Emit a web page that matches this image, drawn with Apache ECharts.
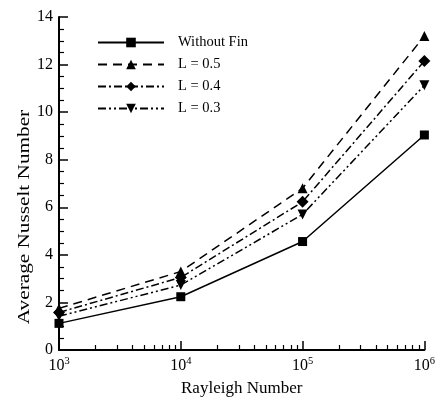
<!DOCTYPE html>
<html>
<head>
<meta charset="utf-8">
<script src="https://cdn.jsdelivr.net/npm/echarts@6/dist/echarts.min.js"></script>
<style>html,body{margin:0;padding:0;background:#fff}#c{width:438px;height:402px}</style>
</head>
<body>
<div id="c"></div>
<script>
const rayleigh = [1e3, 1e4, 1e5, 1e6];
const seriesNames = ['Without Fin', 'L = 0.5', 'L = 0.4', 'L = 0.3'];
const withoutFin = [1.12, 2.24, 4.56, 9.04];
const L05 = [1.75, 3.3, 6.8, 13.2];
const L04 = [1.58, 3.05, 6.23, 12.15];
const L03 = [1.42, 2.73, 5.7, 11.13];
const yTicks = [0, 2, 4, 6, 8, 10, 12, 14];
const minorRa = [2e3,3e3,4e3,5e3,6e3,7e3,8e3,9e3,2e4,3e4,4e4,5e4,6e4,7e4,8e4,9e4,2e5,3e5,4e5,5e5,6e5,7e5,8e5,9e5];
const xTitle = 'Rayleigh Number';
const yTitle = 'Average Nusselt Number';

const FONT = 'Liberation Serif';
const chart = echarts.init(document.getElementById('c'));
const mk = (name, vals, symbol, size, type, rot) => ({
  name, type: 'line', data: rayleigh.map((r, i) => [r, vals[i]]),
  symbol, symbolSize: size, symbolRotate: rot || 0, showSymbol: true,
  lineStyle: { color: '#000', width: 1.5, type },
  itemStyle: { color: '#000' }, z: 3, animation: false
});
chart.setOption({
  animation: false,
  grid: { left: 59, right: 12, top: 17, bottom: 43 },
  legend: {
    orient: 'vertical', left: 97, top: 35, padding: 0, itemWidth: 66, itemHeight: 12, itemGap: 7,
    data: seriesNames,
    textStyle: { fontFamily: FONT, fontSize: 14.5, color: '#000', padding: [0, 0, 0, 9] }
  },
  graphic: [{
    type: 'text', x: 25, y: 217, rotation: Math.PI / 2, scaleX: 1.25,
    style: { text: yTitle, font: '17px "Liberation Serif"', fill: '#000', align: 'center', verticalAlign: 'middle' }
  }],
  xAxis: [{
    type: 'log', logBase: 10, min: 1e3, max: 1e6,
    name: xTitle, nameLocation: 'middle', nameGap: 30,
    nameTextStyle: { fontFamily: FONT, fontSize: 17, color: '#000' },
    axisLine: { lineStyle: { color: '#000', width: 2 } },
    axisTick: { inside: true, length: 9, lineStyle: { color: '#000', width: 1.5 } },
    splitLine: { show: false },
    axisLabel: {
      margin: 6,
      formatter: v => '{b|10}{s|' + Math.round(Math.log10(v)) + '}',
      rich: {
        b: { fontFamily: FONT, fontSize: 16, color: '#000' },
        s: { fontFamily: FONT, fontSize: 10.5, color: '#000', verticalAlign: 'top', padding: [0, 0, 8, 0] }
      }
    }
  }, {
    type: 'log', logBase: 10, min: 1e3, max: 1e6, position: 'bottom',
    axisLine: { show: false }, splitLine: { show: false },
    axisLabel: { show: false },
    axisTick: { inside: true, length: 5, customValues: minorRa, lineStyle: { color: '#000', width: 1.2 } }
  }],
  yAxis: {
    type: 'value', min: 0, max: 14, interval: 2,
    axisLine: { show: true, lineStyle: { color: '#000', width: 2 } },
    axisTick: { inside: true, length: 9, lineStyle: { color: '#000', width: 1.5 } },
    minorTick: { show: true, splitNumber: 4, length: 5, lineStyle: { color: '#000', width: 1.2 } },
    splitLine: { show: false },
    axisLabel: { fontFamily: FONT, fontSize: 16, color: '#000', margin: 6, customValues: yTicks }
  },
  series: [
    mk(seriesNames[0], withoutFin, 'rect', 9, 'solid'),
    mk(seriesNames[1], L05, 'triangle', 10, [9, 6]),
    mk(seriesNames[2], L04, 'diamond', 12, [8, 3, 2, 3]),
    mk(seriesNames[3], L03, 'triangle', 10, [8, 3, 2, 3, 2, 3], 180)
  ]
});
</script>
</body>
</html>
